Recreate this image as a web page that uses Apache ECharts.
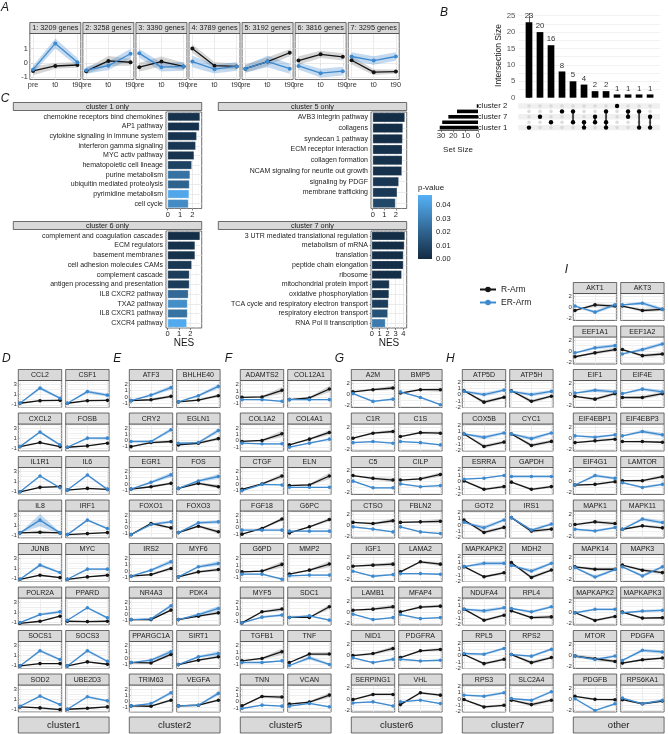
<!DOCTYPE html>
<html><head><meta charset="utf-8">
<script src="https://cdn.jsdelivr.net/npm/echarts@6/dist/echarts.min.js"></script>
<style>html,body{margin:0;padding:0;background:#fff}#c{width:668px;height:734px}</style>
</head><body><div id="c"></div>
<script>
// ---------------- DATA ----------------
const timeLabels = ['pre','t0','t90'];
// Panel A
const A_titles = ['1: 3209 genes','2: 3258 genes','3: 3390 genes','4: 3789 genes','5: 3192 genes','6: 3816 genes','7: 3295 genes'];
const A_R  = [[-0.55,-0.21,-0.14],[-0.57,0.14,0.05],[-0.29,0.1,-0.24],[1.0,-0.19,-0.24],[-0.4,0.1,0.71],[0.17,0.6,0.43],[0.19,-0.64,-0.6]];
const A_ER = [[-0.45,1.36,0.05],[-0.5,-0.19,0.64],[0.67,-0.29,-0.24],[0.1,-0.43,-0.24],[-0.4,0.1,-0.4],[-0.21,-0.71,-0.57],[0.45,0.17,0.45]];
const A_Rse  = [[0.3,0.2,0.2],[0.2,0.35,0.25],[0.3,0.35,0.25],[0.3,0.25,0.2],[0.3,0.3,0.25],[0.3,0.25,0.25],[0.3,0.2,0.15]];
const A_ERse = [[0.25,0.35,0.3],[0.25,0.3,0.35],[0.3,0.3,0.3],[0.4,0.3,0.3],[0.25,0.4,0.35],[0.25,0.3,0.3],[0.3,0.3,0.3]];
const A_yTicks = [-1,0,1];

// Panel B (UpSet)
const B_sets = ['cluster 2','cluster 5','cluster 7','cluster 6','cluster 1'];
const B_setSize = [1,17,24,29,31];
const B_inter = [23,20,16,8,5,4,2,2,1,1,1,1];
const B_members = [[4],[2],[3],[1],[1,3],[3,4],[2,3],[1,3,4],[0],[1,2],[1,4],[2,4]];

// Panel C
const C1_terms = ['chemokine receptors bind chemokines','AP1 pathway','cytokine signaling in immune system','interferon gamma signaling','MYC activ pathway','hematopoietic cell lineage','purine metabolism','ubiquitin mediated proteolysis','pyrimidine metabolism','cell cycle'];
const C1_nes = [2.62,2.57,2.35,2.27,2.14,1.95,1.81,1.76,1.73,1.68];
const C1_p = [0.002,0.002,0.003,0.004,0.003,0.008,0.025,0.02,0.044,0.034];
const C5_terms = ['AVB3 integrin pathway','collagens','syndecan 1 pathway','ECM receptor interaction','collagen formation','NCAM signaling for neurite out growth','signaling by PDGF','membrane trafficking',''];
const C5_nes = [2.79,2.62,2.59,2.56,2.56,2.53,2.26,2.12,1.97];
const C5_p = [0.001,0.001,0.001,0.002,0.002,0.002,0.004,0.005,0.01];
const C6_terms = ['complement and coagulation cascades','ECM regulators','basement membranes','cell adhesion molecules CAMs','complement cascade','antigen processing and presentation','IL8 CXCR2 pathway','TXA2 pathway','IL8 CXCR1 pathway','CXCR4 pathway'];
const C6_nes = [2.85,2.41,2.41,2.12,1.91,1.91,1.82,1.74,1.74,1.68];
const C6_p = [0.001,0.002,0.002,0.004,0.006,0.006,0.022,0.035,0.025,0.045];
const C7_terms = ['3 UTR mediated translational regulation','metabolism of mRNA','translation','peptide chain elongation','ribosome','mitochondrial protein import','oxidative phosphorylation','TCA cycle and respiratory electron transport','respiratory electron transport','RNA Pol II transcription'];
const C7_nes = [4.2,4.12,3.99,3.99,3.78,2.23,2.18,2.1,2.02,1.72];
const C7_p = [0.001,0.001,0.001,0.001,0.001,0.003,0.003,0.006,0.014,0.028];
const P_ticks = [0,0.01,0.02,0.03,0.04];

// Panels D-I : gene names, R-Arm means, ER-Arm means, ribbon half widths [R pre,t0,t90, ER pre,t0,t90]
const D_genes = ['CCL2','CSF1','CXCL2','FOSB','IL1R1','IL6','IL8','IRF1','JUNB','MYC','POLR2A','PPARD','SOCS1','SOCS3','SOD2','UBE2D3'];
const D_R = [[-0.7,-0.2,-0.13],[-0.7,-0.2,-0.13],[-0.67,0.13,-0.67],[-0.8,-0.53,0],[-1.0,-0.13,0],[-0.67,-0.33,-0.53],[-0.53,-0.4,-0.53],[-0.87,-0.67,-0.47],[-1.1,-0.3,-0.77],[-1.1,-0.63,-0.3],[-1.2,-0.8,0.2],[-0.8,-0.87,-0.8],[-1.03,-0.57,-0.57],[-1.03,-0.23,-0.7],[-0.53,-0.73,-1.07],[-1.0,-0.8,-0.53]];
const D_ER = [[-0.7,2.3,0.3],[-0.7,1.6,0.9],[-0.67,2.2,-0.33],[-0.8,1.0,1.0],[-1.0,2.13,-0.2],[-0.67,2.33,-0.53],[-0.53,2.0,-0.53],[-0.87,2.0,0.33],[-1.1,1.7,0.23],[-1.1,0.9,0.9],[-1.07,0.53,1.07],[-0.6,1.87,-0.13],[-1.03,1.97,0.23],[-1.03,1.97,-0.1],[-0.4,1.6,-0.07],[-1.0,1.47,0.67]];
const D_SE = [[0.05,0.1,0.1,0.05,0.35,0.2],[0.05,0.1,0.1,0.05,0.3,0.3],[0.05,0.1,0.1,0.05,0.25,0.15],[0.05,0.1,0.1,0.05,0.2,0.3],[0.05,0.1,0.1,0.05,0.2,0.15],[0.05,0.1,0.1,0.05,0.2,0.15],[0.05,0.1,0.1,0.05,1.2,0.2],[0.05,0.1,0.1,0.05,0.2,0.2],[0.05,0.15,0.1,0.05,0.3,0.2],[0.05,0.1,0.1,0.05,0.2,0.2],[0.05,0.1,0.1,0.05,0.2,0.3],[0.05,0.15,0.15,0.05,0.2,0.2],[0.05,0.1,0.1,0.05,0.3,0.2],[0.05,0.1,0.1,0.05,0.3,0.2],[0.05,0.15,0.2,0.05,0.15,0.15],[0.05,0.1,0.1,0.05,0.2,0.2]];
const E_genes = ['ATF3','BHLHE40','CRY2','EGLN1','EGR1','FOS','FOXO1','FOXO3','IRS2','MYF6','NR4A3','PDK4','PPARGC1A','SIRT1','TRIM63','VEGFA'];
const E_R = [[-0.6,-0.45,0.1],[-0.8,-0.5,0.2],[-1.0,-0.34,-0.17],[-0.72,-0.45,0.3],[-0.83,-0.45,0.1],[-0.72,0.1,-0.45],[-1.15,0.64,-0.07],[-0.83,0.2,-0.7],[-0.85,-0.58,0.4],[-0.96,-0.15,0.23],[-0.83,-0.83,0.7],[-0.83,-0.28,0.26],[-0.74,-0.8,0.56],[-1.07,-0.36,0.18],[-0.72,-0.77,0.2],[-0.72,-0.61,0.2]];
const E_ER = [[-0.6,0.3,1.5],[-0.8,0.2,1.7],[-0.17,-0.17,1.72],[-0.45,-0.34,1.6],[-0.83,0.26,1.46],[-0.72,0.48,1.2],[-1.15,0.48,0.9],[-0.83,0.75,0.9],[-0.85,0.12,1.48],[-0.96,0.67,1.2],[-0.83,-0.72,1.4],[-0.83,-0.01,0.97],[-0.74,-0.36,1.0],[-1.07,0.18,0.72],[-0.72,-0.34,1.4],[-0.72,-0.61,1.3]];
const E_SE = [[0.05,0.15,0.25,0.05,0.2,0.35],[0.05,0.15,0.25,0.05,0.2,0.35],[0.05,0.15,0.2,0.05,0.15,0.3],[0.05,0.15,0.25,0.05,0.15,0.35],[0.05,0.15,0.2,0.05,0.2,0.4],[0.05,0.2,0.3,0.05,0.2,0.4],[0.05,0.2,0.2,0.05,0.2,0.2],[0.05,0.2,0.3,0.05,0.2,0.3],[0.05,0.15,0.25,0.05,0.2,0.35],[0.05,0.2,0.25,0.05,0.2,0.4],[0.05,0.1,0.2,0.05,0.1,0.3],[0.05,0.15,0.25,0.05,0.2,0.4],[0.05,0.15,0.3,0.05,0.2,0.35],[0.05,0.15,0.2,0.05,0.2,0.35],[0.05,0.1,0.2,0.05,0.15,0.3],[0.05,0.1,0.2,0.05,0.1,0.35]];
const F_genes = ['ADAMTS2','COL12A1','COL1A2','COL4A1','CTGF','ELN','FGF18','G6PC','G6PD','MMP2','MYF5','SDC1','TGFB1','TNF','TNN','VCAN'];
const F_R = [[0,0.05,1.1],[-0.37,-0.1,1.3],[-0.1,0.05,1.1],[-0.63,0.26,1.3],[-0.8,0.05,1.3],[-0.2,-0.1,1.3],[-1.0,-0.1,1.37],[-0.8,0.16,1.3],[-0.08,0.03,1.08],[-0.45,0.18,1.13],[-1.26,0.47,0.9],[-0.42,-0.42,1.26],[-0.4,-0.03,1.03],[-0.66,0.66,0.66],[-0.63,0.84,0.74],[-0.37,-0.05,1.05]];
const F_ER = [[-0.37,-0.37,-0.63],[-0.37,-0.37,-0.37],[-0.37,-0.47,-0.47],[-1.0,-0.37,0.26],[-1.0,0,-0.1],[-0.47,-0.47,-0.47],[-0.37,-0.37,-0.37],[-0.53,-0.53,-0.53],[-0.45,-0.45,-1.24],[-0.71,-0.6,-0.6],[-1.26,-0.37,-0.05],[-0.42,-0.16,-0.84],[-0.66,-0.66,-0.4],[-1.13,0.08,-0.97],[-1.05,-0.53,-0.68],[-0.68,-0.26,-0.79]];
const F_SE = [[0.05,0.15,0.5,0.05,0.1,0.1],[0.05,0.15,0.5,0.05,0.1,0.1],[0.05,0.15,0.5,0.05,0.1,0.1],[0.05,0.15,0.4,0.05,0.1,0.15],[0.05,0.1,0.4,0.05,0.1,0.1],[0.05,0.15,0.5,0.05,0.1,0.1],[0.05,0.1,0.3,0.05,0.1,0.1],[0.05,0.1,0.3,0.05,0.15,0.15],[0.05,0.15,0.5,0.05,0.1,0.15],[0.05,0.15,0.5,0.05,0.1,0.1],[0.05,0.15,0.3,0.05,0.15,0.2],[0.05,0.1,0.4,0.05,0.1,0.1],[0.05,0.15,0.5,0.05,0.1,0.1],[0.05,0.2,0.3,0.05,0.3,0.15],[0.05,0.15,0.3,0.05,0.1,0.1],[0.05,0.15,0.4,0.05,0.1,0.1]];
const G_genes = ['A2M','BMP5','C1R','C1S','C5','CILP','CTSO','FBLN2','IGF1','LAMA2','LAMB1','MFAP4','NID1','PDGFRA','SERPING1','VHL'];
const G_R = [[0.5,0.9,1.2],[0.3,0.9,0.9],[0,0.9,1.2],[0.3,1.0,0.9],[1.1,0.6,0.3],[0.3,0.5,1.3],[0.5,0.3,0.8],[0.5,0.6,0.7],[0.45,0.64,0.82],[-0.58,1.24,0.82],[0.36,0.55,0.97],[0.06,0.91,1.09],[0.03,0.39,1.3],[-0.33,0.88,1.12],[-0.06,0.85,0.85],[-0.97,1.15,0.73]];
const G_ER = [[0.2,-1.2,-0.8],[0.5,-0.5,-1.8],[-0.8,-0.6,-0.9],[-0.6,-0.8,-1.2],[0.1,-1.1,-1.1],[-0.4,-0.9,-0.7],[-0.3,-0.7,-1.2],[-0.3,-1.2,-1.5],[-0.45,-1.36,-1.06],[-0.88,-0.88,-1.0],[-0.36,-1.33,-0.97],[-0.42,-1.15,-0.97],[-0.39,-1.24,-0.64],[-0.64,-0.94,-0.82],[-0.67,-0.48,-1.21],[-0.48,-0.18,-0.79]];
const G_SE = [[0.1,0.2,0.4,0.1,0.15,0.15],[0.1,0.2,0.4,0.1,0.15,0.15],[0.1,0.2,0.3,0.1,0.1,0.1],[0.1,0.2,0.3,0.1,0.1,0.1],[0.1,0.2,0.4,0.1,0.1,0.1],[0.1,0.2,0.4,0.1,0.1,0.1],[0.1,0.2,0.4,0.1,0.1,0.1],[0.1,0.2,0.4,0.1,0.1,0.1],[0.1,0.2,0.4,0.1,0.1,0.1],[0.1,0.2,0.4,0.1,0.1,0.1],[0.1,0.2,0.4,0.1,0.1,0.1],[0.1,0.2,0.3,0.1,0.1,0.1],[0.1,0.2,0.4,0.1,0.1,0.1],[0.1,0.2,0.3,0.1,0.1,0.1],[0.1,0.2,0.2,0.1,0.1,0.1],[0.1,0.2,0.2,0.1,0.1,0.1]];
const H_genes = ['ATP5D','ATP5H','COX5B','CYC1','ESRRA','GAPDH','GOT2','IRS1','MAPKAPK2','MDH2','NDUFA4','RPL4','RPL5','RPS2','RPS3','SLC2A4'];
const H_R = [[0.6,-1.2,-0.43],[0.6,-1.07,-0.27],[0.64,-1.33,-0.64],[0.64,-1.17,-0.53],[0.1,-1.23,-0.8],[-0.1,-1.23,-0.8],[0.8,-1.17,-0.37],[1.17,-0.96,-0.64],[0.3,-1.3,-0.67],[0.93,-1.41,-0.24],[0.45,-1.3,-0.5],[0.19,-0.88,-0.77],[0.16,-1.28,-0.59],[0.16,-1.12,-0.32],[-0.08,-1.25,-0.99],[-0.19,-0.88,-0.19]];
const H_ER = [[0.5,0,0.7],[0.5,0,0.5],[0.64,0.1,0.8],[0.64,-0.1,0.8],[0.37,0.53,0.96],[0.8,0.8,0.8],[0.43,-0.43,0.8],[1.17,-0.8,0.16],[0.3,0.83,0.83],[0.5,-0.4,0.83],[0.45,0.19,0.67],[0.56,0.03,0.83],[0.32,0.21,1.12],[0.16,-0.1,1.0],[0.61,0.45,0.99],[0.08,-0.19,1.15]];
const H_SE = [[0.1,0.3,0.2,0.1,0.3,0.2],[0.1,0.3,0.2,0.1,0.3,0.2],[0.1,0.3,0.2,0.1,0.3,0.2],[0.1,0.3,0.2,0.1,0.3,0.2],[0.1,0.2,0.2,0.1,0.1,0.1],[0.1,0.2,0.2,0.1,0.1,0.1],[0.1,0.3,0.2,0.1,0.3,0.2],[0.1,0.3,0.2,0.1,0.2,0.2],[0.1,0.2,0.2,0.1,0.3,0.3],[0.1,0.3,0.2,0.1,0.3,0.2],[0.1,0.2,0.2,0.1,0.3,0.2],[0.1,0.2,0.3,0.1,0.2,0.2],[0.1,0.2,0.2,0.1,0.2,0.2],[0.1,0.3,0.2,0.1,0.2,0.2],[0.1,0.2,0.2,0.1,0.2,0.2],[0.1,0.3,0.2,0.1,0.2,0.2]];
const I_genes = ['AKT1','AKT3','EEF1A1','EEF1A2','EIF1','EIF4E','EIF4EBP1','EIF4EBP3','EIF4G1','LAMTOR','MAPK1','MAPK11','MAPK14','MAPK3','MAPKAPK2','MAPKAPK3','MTOR','PDGFA','PDGFB','RPS6KA1'];
const I_R = [[-0.5,0.5,0.3],[0.3,-0.5,-0.3],[-1.0,-0.3,0.3],[0.3,-0.8,-0.5],[-0.3,-0.8,0.2],[-0.5,-0.5,0.2],[-0.79,-0.48,-0.18],[-0.6,-0.6,-0.73],[-0.6,-0.48,0],[0.18,0.18,0.9],[0.12,0.6,0.3],[-0.73,-0.12,-0.48],[0.33,-0.1,-0.1],[0.64,-0.27,-0.7],[-0.1,-1.48,-0.76],[0.03,-1.06,-1.0],[-0.06,-0.55,-1.03],[-1.33,-0.73,-0.42],[0.52,-0.03,-0.09],[-0.09,-0.82,-0.33]];
const I_ER = [[0.3,-0.8,0.5],[0.5,0.8,-0.3],[-0.3,0.6,1.0],[-0.5,0.3,1.3],[0.3,0.8,0.5],[0.2,1.0,0.5],[0.42,0.18,0.6],[0.42,1.2,0.6],[-0.6,1.1,0.6],[-0.18,-1.03,-0.48],[-0.73,-1.03,-0.42],[-0.73,1.1,0.48],[0.2,-1.5,-0.15],[0.33,-1.3,0.33],[-0.1,0.52,0.52],[-0.1,0.21,0.33],[-0.06,-0.67,-0.06],[-0.85,0.97,0.67],[0.09,-2.03,-0.82],[0.21,-0.82,-0.21]];
const I_SE = [[0.1,0.3,0.3,0.1,0.3,0.3],[0.1,0.3,0.3,0.1,0.3,0.3],[0.1,0.3,0.3,0.1,0.3,0.3],[0.1,0.3,0.3,0.1,0.3,0.3],[0.1,0.3,0.3,0.1,0.3,0.3],[0.1,0.3,0.3,0.1,0.3,0.3],[0.1,0.2,0.2,0.1,0.2,0.2],[0.1,0.2,0.2,0.1,0.3,0.3],[0.1,0.2,0.2,0.1,0.3,0.2],[0.1,0.2,0.3,0.1,0.2,0.2],[0.1,0.3,0.3,0.1,0.2,0.2],[0.1,0.2,0.2,0.1,0.3,0.3],[0.1,0.3,0.3,0.1,0.3,0.2],[0.1,0.3,0.3,0.1,0.3,0.2],[0.1,0.2,0.2,0.1,0.2,0.2],[0.1,0.2,0.2,0.1,0.2,0.2],[0.3,0.3,0.3,0.1,0.2,0.2],[0.1,0.2,0.2,0.1,0.3,0.3],[0.1,0.2,0.2,0.1,0.2,0.2],[0.1,0.2,0.2,0.1,0.2,0.2]];
const geneGroups = [
  {genes:D_genes, R:D_R, ER:D_ER, SE:D_SE, yr:[-1.54,3.8], ticks:[-1,0,1,2,3], name:'cluster1', letter:'D'},
  {genes:E_genes, R:E_R, ER:E_ER, SE:E_SE, yr:[-1.7,2.65], ticks:[-1,0,1,2], name:'cluster2', letter:'E'},
  {genes:F_genes, R:F_R, ER:F_ER, SE:F_SE, yr:[-1.6,2.63], ticks:[-1,0,1,2], name:'cluster5', letter:'F'},
  {genes:G_genes, R:G_R, ER:G_ER, SE:G_SE, yr:[-2.3,2.55], ticks:[-2,-1,0,1,2], name:'cluster6', letter:'G'},
  {genes:H_genes, R:H_R, ER:H_ER, SE:H_SE, yr:[-2.05,2.22], ticks:[-2,-1,0,1,2], name:'cluster7', letter:'H'},
  {genes:I_genes, R:I_R, ER:I_ER, SE:I_SE, yr:[-2.3,2.55], ticks:[-2,-1,0,1,2], name:'other', letter:'I'}
];

// ---------------- BUILD ----------------
const FONT = 'Liberation Sans';
const BLK = '#141414', BLU = '#3e8acf';
const RIB_R = 'rgba(120,120,120,0.30)', RIB_ER = 'rgba(70,140,210,0.32)';
const grids=[], xAxes=[], yAxes=[], series=[], graphic=[];
const xs3 = [0,1,2];
const LBL = {hideOverlap:false, showMinLabel:true, showMaxLabel:true};

function rect(x,y,w,h,fill,stroke,lw){graphic.push({type:'rect',silent:true,z:10,shape:{x,y,width:w,height:h},style:{fill,stroke:stroke||null,lineWidth:lw||0}});}
function text(x,y,t,size,opt){opt=opt||{};graphic.push({type:'text',silent:true,z:11,x,y,rotation:opt.rot||0,style:{text:t,font:(opt.style||'normal')+' '+(opt.weight||'normal')+' '+size+'px "'+FONT+'"',fill:opt.color||'#1a1a1a',textAlign:opt.align||'center',textVerticalAlign:opt.valign||'middle'}});}
function lbl(o){return Object.assign({},LBL,o);}

function addGrid(l,t,w,h,border){
  grids.push({left:l,top:t,width:w,height:h,show:true,backgroundColor:border===false?'transparent':'#fff',borderColor:border===false?'transparent':'#333',borderWidth:border===false?0:0.7,containLabel:false});
  return grids.length-1;
}
function gridLines(gi,xv,yv,color,width){
  const data=[]; xv.forEach(v=>data.push({xAxis:v})); yv.forEach(v=>data.push({yAxis:v}));
  if(!data.length) return;
  series.push({type:'line',xAxisIndex:gi,yAxisIndex:gi,data:[],silent:true,z:1,
    markLine:{silent:true,z:1,animation:false,symbol:['none','none'],label:{show:false},emphasis:{disabled:true},lineStyle:{color,width,type:'solid'},data}});
}
function ribbon(gi,mean,se,color){
  const data = xs3.map((x,i)=>[x, mean[i]-se[i], mean[i]+se[i]]);
  series.push({type:'custom',xAxisIndex:gi,yAxisIndex:gi,data,z:2,silent:true,clip:true,
    encode:{x:0,y:[1,2]},
    renderItem(params,api){
      if(params.dataIndex!==0) return null;
      const top = data.map(d=>api.coord([d[0],d[2]]));
      const bot = data.map(d=>api.coord([d[0],d[1]])).reverse();
      return {type:'polygon',shape:{points:top.concat(bot)},style:{fill:color}};
    }});
}
function meanLine(gi,mean,color,name,size){
  series.push({type:'line',name,xAxisIndex:gi,yAxisIndex:gi,data:xs3.map((x,i)=>[x,mean[i]]),z:3,silent:true,
    symbol:'circle',symbolSize:size,showSymbol:true,lineStyle:{color,width:1.3},itemStyle:{color},clip:false});
}
function midpoints(ticks,lo,hi){const r=[];for(let i=0;i<ticks.length;i++){[ticks[i]-0.5,ticks[i]+0.5].forEach(v=>{if(v>lo&&v<hi&&r.indexOf(v)<0&&ticks.indexOf(v)<0)r.push(v);});}return r;}

// ---- Panel A ----
text(5,8,'A',12,{style:'italic',align:'center'});
const A_yr=[-1.15,2.05], A_xr=[-0.15,2.15];
for(let i=0;i<7;i++){
  const l=29.8+53.07*i, w=51;
  rect(l,22.5,w,11,'#d9d9d9','#333',0.7);
  text(l+w/2,28.2,A_titles[i],7.3);
  const gi=addGrid(l,33.5,w,46);
  xAxes.push({gridIndex:gi,type:'value',min:A_xr[0],max:A_xr[1],axisLine:{show:false},splitLine:{show:false},
    axisTick:{show:true,customValues:xs3,length:2,lineStyle:{color:'#333',width:0.6}},
    axisLabel:lbl({show:true,customValues:xs3,formatter:v=>timeLabels[Math.round(v)],fontSize:7.3,fontFamily:FONT,color:'#333',margin:2})});
  yAxes.push({gridIndex:gi,type:'value',min:A_yr[0],max:A_yr[1],axisLine:{show:false},splitLine:{show:false},
    axisTick:{show:i===0,customValues:A_yTicks,length:2,lineStyle:{color:'#333',width:0.6}},
    axisLabel:lbl({show:i===0,customValues:A_yTicks,fontSize:7.3,fontFamily:FONT,color:'#333',margin:2})});
  gridLines(gi,[],[-0.5,0.5,1.5],'#f2f2f2',0.5);
  gridLines(gi,xs3,A_yTicks,'#e6e6e6',0.8);
  ribbon(gi,A_R[i],A_Rse[i],RIB_R);
  ribbon(gi,A_ER[i],A_ERse[i],RIB_ER);
  meanLine(gi,A_R[i],BLK,'R-Arm',4);
  meanLine(gi,A_ER[i],BLU,'ER-Arm',4);
}

// ---- Panel B ----
text(444,13,'B',12,{style:'italic'});
const B_xr=[-0.97,11.9];
{
  const gi=addGrid(518.3,13.4,141.7,84.3,false);
  xAxes.push({gridIndex:gi,type:'value',min:B_xr[0],max:B_xr[1],show:false});
  yAxes.push({gridIndex:gi,type:'value',min:0,max:25.7,axisLine:{show:true,lineStyle:{color:'#222',width:0.7}},splitLine:{show:false},
    axisTick:{show:true,customValues:[0,5,10,15,20,25],length:2,lineStyle:{color:'#333',width:0.6}},
    axisLabel:lbl({show:true,customValues:[0,5,10,15,20,25],fontSize:7.8,fontFamily:FONT,color:'#555',margin:3}),
    name:'Intersection Size',nameLocation:'middle',nameGap:13,nameRotate:90,nameTextStyle:{fontSize:8.5,fontFamily:FONT,color:'#222'}});
  gridLines(gi,[],[2.5,5,7.5,10,12.5,15,17.5,20,22.5,25],'#ececec',0.7);
  series.push({type:'bar',xAxisIndex:gi,yAxisIndex:gi,data:B_inter.map((v,i)=>[i,v]),barWidth:6.7,z:3,silent:true,
    itemStyle:{color:'#000'},label:{show:true,position:'top',distance:2,fontSize:7.8,fontFamily:FONT,color:'#333'}});
}
{
  const gi=addGrid(518.3,103.3,141.7,27,false);
  xAxes.push({gridIndex:gi,type:'value',min:B_xr[0],max:B_xr[1],show:false});
  yAxes.push({gridIndex:gi,type:'value',min:-0.5,max:4.5,inverse:true,axisLine:{show:false},axisTick:{show:false},splitLine:{show:false},
    axisLabel:lbl({show:true,customValues:[0,1,2,3,4],formatter:v=>B_sets[Math.round(v)],fontSize:7.8,fontFamily:FONT,color:'#222',margin:11})});
  const grey=[]; B_inter.forEach((v,i)=>B_sets.forEach((s,j)=>grey.push([i,j])));
  series.push({type:'scatter',xAxisIndex:gi,yAxisIndex:gi,data:grey,symbolSize:3.6,itemStyle:{color:'#d4d4d4'},silent:true,z:2,
    markArea:{silent:true,itemStyle:{color:'#f0f0f0'},data:[[{yAxis:-0.5},{yAxis:0.5}],[{yAxis:1.5},{yAxis:2.5}],[{yAxis:3.5},{yAxis:4.5}]]}});
  B_members.forEach((m,i)=>{
    series.push({type:'line',xAxisIndex:gi,yAxisIndex:gi,data:m.map(j=>[i,j]),symbol:'circle',symbolSize:4.4,silent:true,z:3,
      lineStyle:{color:'#000',width:1.3},itemStyle:{color:'#000'}});
  });
}
{
  const gi=addGrid(438,103.3,40,27,false);
  xAxes.push({gridIndex:gi,type:'value',min:0,max:32.4,inverse:true,axisLine:{show:true,lineStyle:{color:'#222',width:0.7}},splitLine:{show:false},
    axisTick:{show:true,customValues:[0,10,20,30],length:2,lineStyle:{color:'#333',width:0.6}},
    axisLabel:lbl({show:true,customValues:[0,10,20,30],fontSize:7.8,fontFamily:FONT,color:'#333',margin:2}),
    name:'Set Size',nameLocation:'middle',nameGap:15,nameTextStyle:{fontSize:8,fontFamily:FONT,color:'#222'}});
  yAxes.push({gridIndex:gi,type:'category',data:B_sets,inverse:true,show:false});
  series.push({type:'bar',xAxisIndex:gi,yAxisIndex:gi,data:B_setSize,barWidth:3.6,itemStyle:{color:'#000'},silent:true,z:3});
}

// ---- Panel C ----
text(5,99,'C',12,{style:'italic'});
const cBarSeries=[];
function cPanel(terms,nes,p,title,stripX,stripW,gl,gt,gh,xr,xt){
  rect(stripX,gt-9.5,stripW,8,'#d9d9d9','#333',0.7);
  text(stripX+stripW/2,gt-5.5,title,7.3);
  const gi=addGrid(gl,gt,35.7,gh);
  xAxes.push({gridIndex:gi,type:'value',min:xr[0],max:xr[1],axisLine:{show:false},splitLine:{show:false},
    axisTick:{show:true,customValues:xt,length:2,lineStyle:{color:'#333',width:0.6}},
    axisLabel:lbl({show:true,customValues:xt,fontSize:7.5,fontFamily:FONT,color:'#222',margin:2})});
  yAxes.push({gridIndex:gi,type:'category',data:terms,inverse:true,axisLine:{show:false},splitLine:{show:false},
    axisTick:{show:true,alignWithLabel:true,length:2,lineStyle:{color:'#333',width:0.6}},
    axisLabel:lbl({show:true,interval:0,fontSize:7,fontFamily:FONT,color:'#222',margin:3})});
  const minor=[]; for(let v=0.5;v<xr[1];v+=1) minor.push(v);
  gridLines(gi,minor,[],'#f2f2f2',0.5);
  gridLines(gi,xt,terms.map((t,i)=>i),'#e6e6e6',0.8);
  cBarSeries.push(series.length);
  series.push({type:'bar',xAxisIndex:gi,yAxisIndex:gi,data:terms.map((t,i)=>[nes[i],i,p[i]]),encode:{x:0,y:1},
    barWidth:'88%',z:3,silent:true,itemStyle:{borderColor:'rgba(255,255,255,0.6)',borderWidth:0.4}});
}
cPanel(C1_terms,C1_nes,C1_p,'cluster 1 only',13.3,188.4,166,112,96.5,[-0.14,2.76],[0,1,2]);
cPanel(C5_terms,C5_nes,C5_p,'cluster 5 only',218.3,188.4,371,112,96.5,[-0.15,2.95],[0,1,2]);
cPanel(C6_terms,C6_nes,C6_p,'cluster 6 only',13.3,188.4,166,231,97,[-0.15,3.0],[0,1,2]);
cPanel(C7_terms,C7_nes,C7_p,'cluster 7 only',218.3,188.4,371,231,97,[-0.1,4.42],[0,1,2,3,4]);
text(184,343,'NES',10);
text(389,343,'NES',10);
// colour bar legend
text(418,188,'p-value',8,{align:'left'});
{
  const gi=addGrid(418,195,14,64,false);
  xAxes.push({gridIndex:gi,type:'category',data:['p'],show:false});
  yAxes.push({gridIndex:gi,type:'value',min:0,max:0.0475,position:'right',axisLine:{show:false},splitLine:{show:false},
    axisTick:{show:true,inside:true,customValues:P_ticks,length:3,lineStyle:{color:'#fff',width:0.8}},
    axisLabel:lbl({show:true,customValues:P_ticks,formatter:v=>v.toFixed(2),fontSize:7.5,fontFamily:FONT,color:'#222',margin:4})});
  series.push({type:'bar',xAxisIndex:gi,yAxisIndex:gi,data:[0.0475],barWidth:'100%',silent:true,z:2,
    itemStyle:{color:new echarts.graphic.LinearGradient(0,1,0,0,[{offset:0,color:'#132B43'},{offset:1,color:'#56B1F7'}])}});
}

// ---- Panels D-I ----
const GROUP_X=[18.3,129.3,240.3,351.3,462.3,573.3], COL_DX=47.4, PW=43.4, STRIP_H=11, PH=27, ROW_DY=43.5;
const G_xr=[-0.085,2.085];
geneGroups.forEach((g,gk)=>{
  const top0 = gk===5 ? 282.5 : 369.5;
  if(gk<5) text(GROUP_X[gk]-12,359,g.letter,12,{style:'italic'}); else text(GROUP_X[gk]-7,270,g.letter,12,{style:'italic'});
  rect(GROUP_X[gk],717,COL_DX+PW,16,'#d9d9d9','#333',0.7);
  text(GROUP_X[gk]+(COL_DX+PW)/2,725.5,g.name,9.5);
  const minor=midpoints(g.ticks,g.yr[0],g.yr[1]);
  g.genes.forEach((gn,k)=>{
    const r=Math.floor(k/2), c=k%2;
    const l=GROUP_X[gk]+c*COL_DX, st=top0+r*ROW_DY;
    rect(l,st,PW,STRIP_H,'#d9d9d9','#333',0.7);
    text(l+PW/2,st+STRIP_H/2+0.5,gn,7);
    const gi=addGrid(l,st+STRIP_H,PW,PH);
    xAxes.push({gridIndex:gi,type:'value',min:G_xr[0],max:G_xr[1],show:false});
    yAxes.push({gridIndex:gi,type:'value',min:g.yr[0],max:g.yr[1],axisLine:{show:false},splitLine:{show:false},
      axisTick:{show:c===0,customValues:g.ticks,length:2,lineStyle:{color:'#333',width:0.6}},
      axisLabel:lbl({show:c===0,customValues:g.ticks,fontSize:6,fontFamily:FONT,color:'#333',margin:1.5})});
    gridLines(gi,[],minor,'#f2f2f2',0.5);
    gridLines(gi,xs3,g.ticks,'#e6e6e6',0.7);
    const se=g.SE[k];
    ribbon(gi,g.R[k],se.slice(0,3),RIB_R);
    ribbon(gi,g.ER[k],se.slice(3,6),RIB_ER);
    meanLine(gi,g.R[k],BLK,'R-Arm',3.6);
    meanLine(gi,g.ER[k],BLU,'ER-Arm',3.6);
  });
});

const option={
  animation:false,
  textStyle:{fontFamily:FONT},
  grid:grids, xAxis:xAxes, yAxis:yAxes, series,
  visualMap:[{type:'continuous',show:false,seriesIndex:cBarSeries,dimension:2,min:0,max:0.0475,inRange:{color:['#132B43','#56B1F7']}}],
  legend:{data:['R-Arm','ER-Arm'],orient:'vertical',left:474,top:280,itemWidth:16,itemHeight:7,itemGap:4,selectedMode:false,
    textStyle:{fontSize:8.5,fontFamily:FONT,color:'#222'}},
  graphic:graphic
};
const chart=echarts.init(document.getElementById('c'),null,{renderer:'canvas'});
chart.setOption(option);
</script></body></html>
